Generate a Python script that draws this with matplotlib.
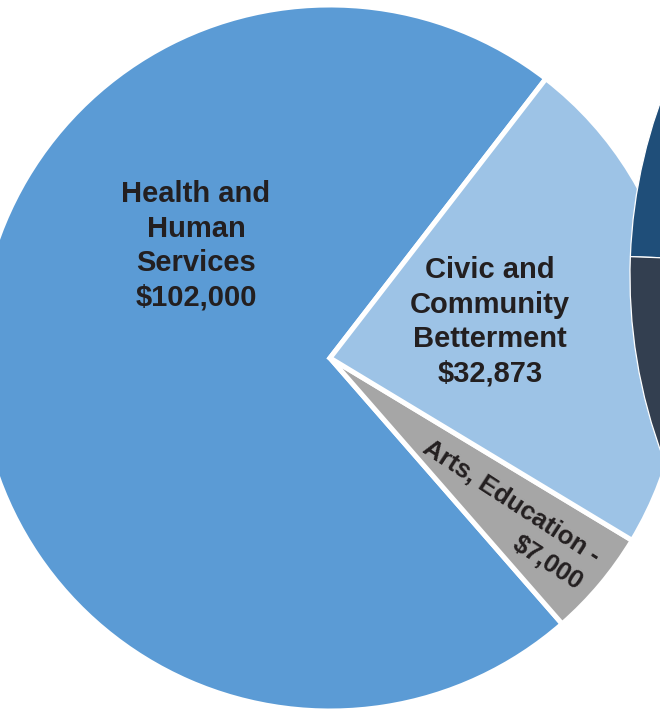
import matplotlib
matplotlib.use("Agg")
import matplotlib.pyplot as plt
from matplotlib import font_manager
from matplotlib.font_manager import FontProperties

# ---- data ----
categories = ["Health and Human Services", "Arts, Education", "Civic and Community Betterment"]
amounts = [102000, 7000, 32873]
slice_colors = ["#5B9BD5", "#A6A6A6", "#9DC3E6"]
label_texts = ["Health and\nHuman\nServices\n$102,000",
               "Arts, Education -\n$7,000",
               "Civic and\nCommunity\nBetterment\n$32,873"]

# neighbouring chart, only partly visible at right edge
neighbor_shares = [24.4, 25.6, 50.0]
neighbor_colors = ["#1F4E79", "#333F50", "#44546A"]

W, H = 660, 711
fig = plt.figure(figsize=(W / 100, H / 100), dpi=100)
ax = fig.add_axes([0, 0, 1, 1])

ax.pie(amounts, colors=slice_colors, startangle=52.3, counterclock=True,
       center=(330, H - 358), radius=353,
       wedgeprops=dict(edgecolor="white", linewidth=3.6))

ax.pie(neighbor_shares, colors=neighbor_colors, startangle=90, counterclock=True,
       center=(1144, H - 276), radius=514,
       wedgeprops=dict(edgecolor="white", linewidth=0.9))

ax.set_xlim(0, W)
ax.set_ylim(0, H)
ax.set_aspect("equal")
ax.axis("off")

names = {f.name for f in font_manager.fontManager.ttflist}
main_font = "Liberation Sans" if "Liberation Sans" in names else "DejaVu Sans"

# look for a condensed bold face for the rotated label
narrow_fp = None
narrow_size = 18.5
for f in font_manager.fontManager.ttflist:
    if f.name == "Liberation Sans Narrow" and f.weight in (700, "bold"):
        narrow_fp = FontProperties(fname=f.fname)
        narrow_size = 21
        break
if narrow_fp is None:
    narrow_fp = FontProperties(family=main_font, weight="bold")

txt_color = "#231F20"
ax.text(196, H - 246, label_texts[0], ha="center", va="center", fontsize=21,
        fontweight="bold", family=main_font, color=txt_color, linespacing=1.3)
ax.text(490, H - 322, label_texts[2], ha="center", va="center", fontsize=21,
        fontweight="bold", family=main_font, color=txt_color, linespacing=1.3)
ax.text(503, H - 515, label_texts[1], ha="center", va="center",
        fontproperties=narrow_fp, fontsize=narrow_size, color=txt_color,
        rotation=-33, rotation_mode="anchor", multialignment="right",
        linespacing=1.42)

fig.savefig("out.png", dpi=100, facecolor="white")
